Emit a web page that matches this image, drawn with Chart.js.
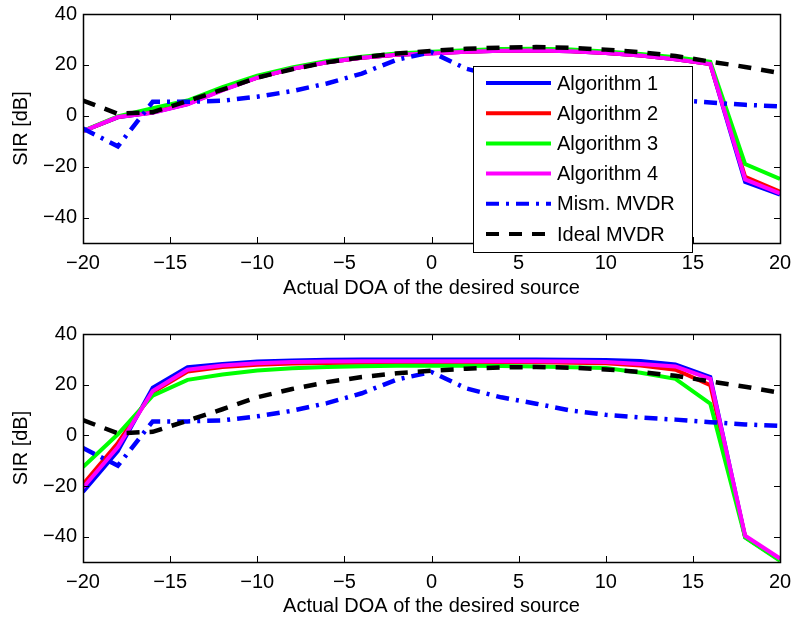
<!DOCTYPE html>
<html>
<head>
<meta charset="utf-8">
<script src="https://cdn.jsdelivr.net/npm/chart.js@4/dist/chart.umd.min.js"></script>
<style>
  html, body { margin: 0; padding: 0; background: #fff; }
  .panel { position: relative; width: 792px; height: 309px; }
</style>
</head>
<body>
<div class="panel"><canvas id="topChart" width="792" height="309"></canvas></div>
<div class="panel"><canvas id="bottomChart" width="792" height="309"></canvas></div>
<script>
// --- Data ---
const doa = [-20, -18, -16, -14, -12, -10, -8, -6, -4, -2, 0, 2, 4, 6, 8, 10, 12, 14, 16, 18, 20];
const xTicks = [-20, -15, -10, -5, 0, 5, 10, 15, 20];
const yTicks = [-40, -20, 0, 20, 40];

const seriesNames = ['Algorithm 1', 'Algorithm 2', 'Algorithm 3', 'Algorithm 4', 'Mism. MVDR', 'Ideal MVDR'];

// upper panel
const alg1Top = [-6, -0.6, 1.3, 4.6, 10.2, 15, 18.5, 21, 22.8, 24, 24.6, 25.2, 25.6, 25.7, 25.4, 24.7, 23.7, 22.2, 20.3, -26, -31];
const alg2Top = [-6, -0.5, 1.4, 4.7, 10.3, 15, 18.5, 21, 22.8, 24, 24.6, 25.2, 25.6, 25.7, 25.4, 24.7, 23.7, 22.2, 20.3, -24, -29.8];
const alg3Top = [-6, -0.2, 3, 6, 11.3, 15.8, 19, 21.5, 23.2, 24.5, 25.2, 25.8, 26.2, 26.3, 26, 25.3, 24.3, 23, 21.2, -19, -24.8];
const alg4Top = [-6, -0.5, 1.2, 4.5, 10, 15, 18.5, 21, 22.8, 24, 24.5, 25.2, 25.6, 25.7, 25.4, 24.7, 23.7, 22.2, 20.3, -25, -30.5];

// lower panel
const alg1Bot = [-22.3, -6.2, 18.8, 26.9, 28.2, 29.1, 29.5, 29.8, 29.9, 29.9, 29.9, 29.9, 29.9, 29.9, 29.8, 29.7, 29.3, 28, 23, -40.2, -49.2];
const alg2Bot = [-19.3, -3, 17, 25.2, 27, 27.9, 28.4, 28.6, 28.7, 28.8, 28.8, 28.8, 28.8, 28.8, 28.7, 28.5, 27.6, 25.9, 19.8, -40, -49];
const alg3Bot = [-12.5, 0.4, 15.7, 21.9, 24, 25.6, 26.5, 27, 27.3, 27.5, 27.5, 27.5, 27.4, 27.2, 26.9, 26.6, 24.7, 22.3, 12.5, -40.3, -49.5];
const alg4Bot = [-20.7, -4.6, 17.5, 25.9, 27.6, 28.5, 28.9, 29.1, 29.2, 29.2, 29.2, 29.2, 29.2, 29.2, 29.1, 28.9, 28.2, 27.2, 22.3, -39.6, -48.6];

// same in both panels
const mismMvdr = [-5, -12, 5.5, 5.5, 5.9, 7.5, 9.7, 12.7, 16.6, 22, 25, 18.5, 15, 12.5, 9.8, 8.1, 7, 6.2, 5.2, 4.3, 3.7];
const idealMvdr = [6, 0.8, 1.4, 5.8, 10.3, 15, 18.3, 21, 23, 24.5, 25.5, 26.3, 26.8, 27, 26.7, 26, 25, 23.5, 21.3, 19.2, 16.8];

const colors = ['#0000ff', '#ff0000', '#00ff00', '#ff00ff', '#0000ff', '#000000'];
const dashes = [[], [], [], [], [13, 7, 3, 7], [13, 10]];

const FONT = { family: '"Liberation Sans", Arial, Helvetica, sans-serif', size: 20 };
Chart.defaults.font.family = FONT.family;
Chart.defaults.color = '#000';

function minusSign(v) {
    return String(v).replace('-', '\u2212');
}

function buildDatasets(seriesList) {
    return seriesList.map((vals, i) => ({
        label: seriesNames[i],
        data: doa.map((x, k) => ({ x: x, y: vals[k] })),
        borderColor: colors[i],
        borderWidth: i < 4 ? 4 : 4.5,
        borderDash: dashes[i],
        borderCapStyle: 'butt',
        pointRadius: 0,
        tension: 0,
        fill: false,
        // matlab draws later lines on top
        order: seriesList.length - i
    }));
}

// no extra room for overflowing tick labels, layout.padding decides the plot box
function noScalePadding(s) {
    s.paddingTop = 0;
    s.paddingBottom = 0;
    s.paddingLeft = 0;
    s.paddingRight = 0;
}

// --- Box + inward tick marks like matlab ---
const framePlugin = {
    id: 'frame',
    afterDatasetsDraw(chart) {
        const { ctx, chartArea: a, scales } = chart;
        ctx.save();
        ctx.strokeStyle = '#000';
        ctx.lineWidth = 1;
        const len = 6;
        ctx.beginPath();
        xTicks.forEach(t => {
            const px = Math.round(scales.x.getPixelForValue(t)) + 0.5;
            ctx.moveTo(px, a.bottom); ctx.lineTo(px, a.bottom - len);
            ctx.moveTo(px, a.top); ctx.lineTo(px, a.top + len);
        });
        yTicks.forEach(t => {
            const py = Math.round(scales.y.getPixelForValue(t)) + 0.5;
            ctx.moveTo(a.left, py); ctx.lineTo(a.left + len, py);
            ctx.moveTo(a.right, py); ctx.lineTo(a.right - len, py);
        });
        ctx.stroke();
        ctx.lineWidth = 1.5;
        ctx.strokeRect(Math.round(a.left) + 0.5, Math.round(a.top) + 0.5,
                       Math.round(a.right - a.left), Math.round(a.bottom - a.top));
        ctx.restore();
    }
};

// --- Legend box drawn inside the upper axes ---
const boxLegendPlugin = {
    id: 'boxLegend',
    afterDraw(chart, args, opts) {
        if (!opts.show) return;
        const { ctx, chartArea: a } = chart;
        const bx = a.right - 307, by = a.top + 52, bw = 219, bh = 186;
        ctx.save();
        ctx.fillStyle = '#fff';
        ctx.fillRect(bx, by, bw, bh);
        ctx.strokeStyle = '#000';
        ctx.lineWidth = 1;
        ctx.strokeRect(bx + 0.5, by + 0.5, bw, bh);
        ctx.font = FONT.size + 'px ' + FONT.family;
        ctx.textBaseline = 'middle';
        ctx.fillStyle = '#000';
        chart.data.datasets.forEach((ds, i) => {
            const y = by + 17 + i * 30.2;
            ctx.beginPath();
            ctx.strokeStyle = ds.borderColor;
            ctx.lineWidth = 4;
            ctx.setLineDash(ds.borderDash);
            ctx.moveTo(bx + 13, y);
            ctx.lineTo(bx + 78, y);
            ctx.stroke();
            ctx.setLineDash([]);
            ctx.fillText(ds.label, bx + 84, y + 1);
        });
        ctx.restore();
    }
};

function makeChart(canvasId, seriesList, layout) {
    const ctx = document.getElementById(canvasId).getContext('2d');
    return new Chart(ctx, {
        type: 'line',
        data: { datasets: buildDatasets(seriesList) },
        options: {
            responsive: false,
            animation: false,
            devicePixelRatio: 1,
            layout: { padding: { top: layout.padTop, right: 12, bottom: 0, left: 0 } },
            plugins: {
                legend: { display: false },
                tooltip: { enabled: false },
                boxLegend: { show: layout.legend }
            },
            scales: {
                x: {
                    type: 'linear',
                    min: -20,
                    max: 20,
                    grid: { display: false, drawTicks: false },
                    border: { display: false },
                    afterBuildTicks: s => { s.ticks = xTicks.map(v => ({ value: v })); },
                    afterFit: s => { s.height = layout.xHeight; noScalePadding(s); },
                    ticks: {
                        autoSkip: false,
                        maxRotation: 0,
                        padding: 8,
                        font: { size: FONT.size },
                        callback: v => minusSign(v)
                    },
                    title: {
                        display: true,
                        text: 'Actual DOA of the desired source',
                        font: { size: FONT.size },
                        padding: { top: 0, bottom: layout.titlePad }
                    }
                },
                y: {
                    min: -50,
                    max: 40,
                    grid: { display: false, drawTicks: false },
                    border: { display: false },
                    afterBuildTicks: s => { s.ticks = yTicks.map(v => ({ value: v })); },
                    afterFit: s => { s.width = 83; noScalePadding(s); },
                    ticks: {
                        padding: 6,
                        font: { size: FONT.size },
                        callback: v => minusSign(v)
                    },
                    title: {
                        display: true,
                        text: 'SIR [dB]',
                        font: { size: FONT.size },
                        padding: { top: 9, bottom: 0 }
                    }
                }
            }
        },
        plugins: [framePlugin, boxLegendPlugin]
    });
}

// --- Build both panels ---
makeChart('topChart',
    [alg1Top, alg2Top, alg3Top, alg4Top, mismMvdr, idealMvdr],
    { padTop: 14, xHeight: 66, titlePad: 9, legend: true });

makeChart('bottomChart',
    [alg1Bot, alg2Bot, alg3Bot, alg4Bot, mismMvdr, idealMvdr],
    { padTop: 25, xHeight: 56, titlePad: 0, legend: false });
</script>
</body>
</html>
